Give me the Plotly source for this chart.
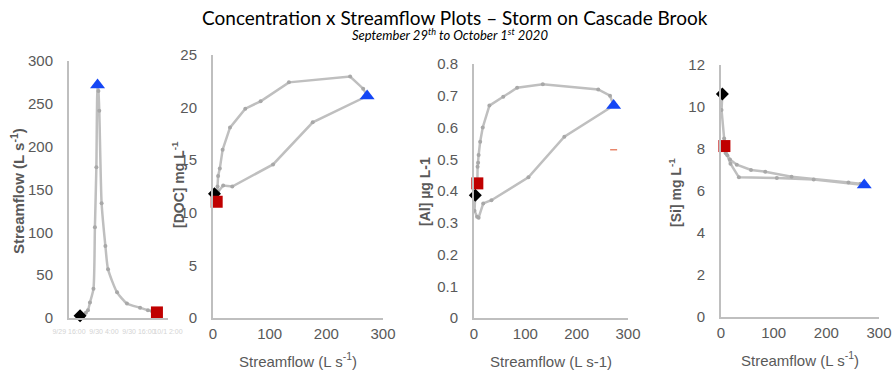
import plotly.graph_objects as go

# ---------------- data ----------------
# sample times (hours after 2020-09-29 00:00)
hours = [19.8, 20.8, 21.8, 22.5, 23.2, 24.4, 24.9, 25.4, 25.8, 26.1, 26.4,
         27.2, 28.5, 29.4, 32.5, 35.9, 40.4, 43.1, 44.5, 45.5, 46.2]
# streamflow (L s-1)
flow = [2.6, 1, 6, 9, 18, 34, 106, 176, 272, 265, 242,
        134, 84, 57, 30, 17, 12, 9, 8, 7, 6.5]
# concentrations
doc = [11.8, 11.6, 11.5, 12.0, 12.6, 12.5, 14.6, 18.6, 21.1, 21.8, 22.95,
       22.4, 20.6, 19.9, 18.1, 16.0, 14.2, 13.5, 12.5, 11.9, 11.05]
al = [0.387, 0.338, 0.319, 0.316, 0.361, 0.371, 0.443, 0.571, 0.669, 0.70, 0.72,
      0.736, 0.725, 0.697, 0.669, 0.60, 0.555, 0.513, 0.489, 0.476, 0.424]
si = [10.62, 9.86, 8.5, 7.9, 7.3, 6.65, 6.62, 6.55, 6.29, 6.35, 6.4,
      6.68, 6.92, 7.0, 7.25, 7.5, 7.7, 7.8, 7.9, 8.0, 8.14]
al_stray_q = [272]
al_stray_c = [0.53]

time_tick_vals = [16, 28, 40, 50]
time_tick_text = ["9/29 16:00", "9/30 4:00", "9/30 16:00", "10/1 2:00"]

# ---------------- styling ----------------
W, H = 893, 371
LINE_C = "#bfbfbf"
DOT_C = "#a8a8a8"
AX_C = "#bfbfbf"
TXT_C = "#595959"
FONT = "Liberation Sans"

def xd(a, b):
    return [a / W, b / W]

def yd(top, bottom):
    return [1 - bottom / H, 1 - top / H]

peak = flow.index(max(flow))

fig = go.Figure()

def add_panel(n, xs, ys, smooth=False):
    xa = "x" if n == 1 else f"x{n}"
    ya = "y" if n == 1 else f"y{n}"
    line = dict(color=LINE_C, width=2.5)
    if smooth:
        line.update(shape="spline", smoothing=0.6)
    fig.add_trace(go.Scatter(x=xs, y=ys, mode="lines+markers", xaxis=xa, yaxis=ya,
                             line=line, marker=dict(size=4, color=DOT_C),
                             cliponaxis=False, showlegend=False, hoverinfo="skip"))
    fig.add_trace(go.Scatter(x=[xs[0]], y=[ys[0]], mode="markers", xaxis=xa, yaxis=ya,
                             marker=dict(symbol="diamond", size=10, color="black"),
                             cliponaxis=False, showlegend=False))
    fig.add_trace(go.Scatter(x=[xs[-1]], y=[ys[-1]], mode="markers", xaxis=xa, yaxis=ya,
                             marker=dict(symbol="square", size=12, color="#c00000"),
                             cliponaxis=False, showlegend=False))
    fig.add_trace(go.Scatter(x=[xs[peak]], y=[ys[peak]], mode="markers", xaxis=xa, yaxis=ya,
                             marker=dict(symbol="triangle-up", size=13, color="#1446f5"),
                             cliponaxis=False, showlegend=False))

add_panel(1, hours, flow, smooth=True)
add_panel(2, flow, doc)
add_panel(3, flow, al)
add_panel(4, flow, si)

fig.add_trace(go.Scatter(x=al_stray_q, y=al_stray_c, mode="markers", xaxis="x3", yaxis="y3",
                         marker=dict(symbol="line-ew", size=5,
                                     line=dict(color="#e8866b", width=1.5)),
                         showlegend=False, hoverinfo="skip"))

tickfont = dict(family=FONT, size=15, color=TXT_C)

def xaxis(dom, anchor, rng, **kw):
    d = dict(domain=dom, anchor=anchor, range=rng, showgrid=False, zeroline=False,
             showline=True, linecolor=AX_C, linewidth=2, ticks="", tickfont=tickfont,
             ticklabelstandoff=1, tickangle=0, automargin=False, fixedrange=True)
    d.update(kw)
    return d

def yaxis(dom, anchor, rng, dtick, **kw):
    d = dict(domain=dom, anchor=anchor, range=rng, dtick=dtick, tick0=0,
             showgrid=False, zeroline=False, showline=True, linecolor=AX_C,
             linewidth=2, ticks="", tickfont=tickfont, ticklabelstandoff=11,
             automargin=False, fixedrange=True)
    d.update(kw)
    return d

xtitle = dict(font=dict(family=FONT, size=15, color=TXT_C))

fig.update_layout(
    width=W, height=H, margin=dict(l=0, r=0, t=0, b=0, autoexpand=False),
    paper_bgcolor="white", plot_bgcolor="white",
    font=dict(family=FONT, color=TXT_C),
    xaxis=xaxis(xd(69, 168), "y", [16, 50], tickvals=time_tick_vals,
                ticktext=time_tick_text,
                tickfont=dict(family=FONT, size=7, color="#d4d4d4"),
                ticklabelstandoff=6),
    yaxis=yaxis(yd(61, 318), "x", [0, 300], 50),
    xaxis2=xaxis(xd(213, 383), "y2", [0, 300], dtick=100,
                 title=dict(text="Streamflow (L s<sup>-1</sup>)", **xtitle)),
    yaxis2=yaxis(yd(55, 318), "x2", [0, 25], 5),
    xaxis3=xaxis(xd(474, 628), "y3", [0, 300], dtick=100,
                 title=dict(text="Streamflow (L s-1)", **xtitle)),
    yaxis3=yaxis(yd(64, 318), "x3", [0, 0.8], 0.1),
    xaxis4=xaxis(xd(721, 879), "y4", [0, 300], dtick=100,
                 title=dict(text="Streamflow (L s<sup>-1</sup>)", **xtitle)),
    yaxis4=yaxis(yd(65, 317), "x4", [0, 12], 2),
)

ytitles = [
    ("<b>Streamflow (L s<sup>-1</sup>)</b>", 17, 191, 15),
    ("<b>[DOC] mg L<sup>-1</sup></b>", 178, 185, 14),
    ("<b>[Al] µg L-1</b>", 425, 192, 14),
    ("<b>[Si] mg L<sup>-1</sup></b>", 675, 193, 14),
]
for text, px, py, sz in ytitles:
    fig.add_annotation(text=text, x=px / W, y=1 - py / H, xref="paper", yref="paper",
                       textangle=-90, showarrow=False, xanchor="center", yanchor="middle",
                       font=dict(family=FONT, size=sz, color=TXT_C))

fig.add_annotation(text="Concentration x Streamflow Plots – Storm on Cascade Brook",
                   x=455 / W, y=1 - 17 / H, xref="paper", yref="paper", showarrow=False,
                   xanchor="center", yanchor="middle",
                   font=dict(family="Lato", size=19, color="black"))
fig.add_annotation(text="<i>September 29<sup>th</sup> to October 1<sup>st</sup> 2020</i>",
                   x=450 / W, y=1 - 35 / H, xref="paper", yref="paper", showarrow=False,
                   xanchor="center", yanchor="middle",
                   font=dict(family="Lato", size=13, color="black"))

fig.write_html("out.html")
